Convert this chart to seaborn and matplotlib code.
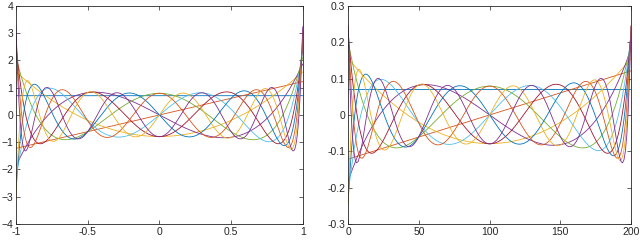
import numpy as np
import pandas as pd
import seaborn as sns
import matplotlib.pyplot as plt
from numpy.polynomial import legendre as L

# values
degrees = list(range(11))            # 11 curves, degree 0..10
left_domain = [-1.0, 1.0]
right_points = list(range(0, 201))   # sample points 0..200
left_xticks = [-1, -0.5, 0, 0.5, 1]
left_xlabels = ['-1', '-0.5', '0', '0.5', '1']
left_yticks = [-4, -3, -2, -1, 0, 1, 2, 3, 4]
right_xticks = [0, 50, 100, 150, 200]
right_yticks = [-0.3, -0.2, -0.1, 0, 0.1, 0.2, 0.3]
right_ylabels = ['-0.3', '-0.2', '-0.1', '0', '0.1', '0.2', '0.3']
colors = ['#0072BD', '#D95319', '#EDB120', '#7E2F8E', '#77AC30', '#4DBEEE', '#A2142F']

sns.set_style('ticks')
plt.rcParams['font.family'] = ['Liberation Sans', 'DejaVu Sans']
plt.rcParams['xtick.direction'] = 'in'
plt.rcParams['ytick.direction'] = 'in'

# continuous orthonormal Legendre
x1 = np.linspace(left_domain[0], left_domain[1], 1201)
rows = []
for n in degrees:
    c = np.zeros(n + 1)
    c[n] = np.sqrt((2 * n + 1) / 2)
    y = L.legval(x1, c)
    rows.append(pd.DataFrame({'x': x1, 'y': y, 'deg': n}))
df1 = pd.concat(rows)

# discrete orthonormal polynomials on the sample points
xp = np.array(right_points, dtype=float)
t = 2 * (xp - xp[0]) / (xp[-1] - xp[0]) - 1
V = L.legvander(t, max(degrees))
Q, R = np.linalg.qr(V)
Q = Q * np.sign(Q[-1, :])
df2 = pd.concat([pd.DataFrame({'x': xp, 'y': Q[:, n], 'deg': n}) for n in degrees])

pal = [colors[n % len(colors)] for n in degrees]

fig = plt.figure(figsize=(6.4, 2.4), dpi=100)
ax1 = fig.add_axes([0.025, 0.067, 0.448, 0.908])
ax2 = fig.add_axes([0.544, 0.067, 0.442, 0.908])

sns.lineplot(data=df1, x='x', y='y', hue='deg', palette=pal, linewidth=0.6,
             legend=False, ax=ax1, sort=False, estimator=None)
sns.lineplot(data=df2, x='x', y='y', hue='deg', palette=pal, linewidth=0.6,
             legend=False, ax=ax2, sort=False, estimator=None)

ax1.set_xlim(-1, 1)
ax1.set_ylim(-4, 4)
ax1.set_xticks(left_xticks)
ax1.set_xticklabels(left_xlabels)
ax1.set_yticks(left_yticks)

ax2.set_xlim(0, 200)
ax2.set_ylim(-0.3, 0.3)
ax2.set_xticks(right_xticks)
ax2.set_yticks(right_yticks)
ax2.set_yticklabels(right_ylabels)

for ax in (ax1, ax2):
    ax.set_xlabel('')
    ax.set_ylabel('')
    for s in ax.spines.values():
        s.set_visible(True)
        s.set_color('#262626')
        s.set_linewidth(0.6)
    ax.tick_params(top=True, right=True, length=3, width=0.5, colors='#262626',
                   labelsize=7.5, pad=2)

fig.savefig('out.png', dpi=100)
